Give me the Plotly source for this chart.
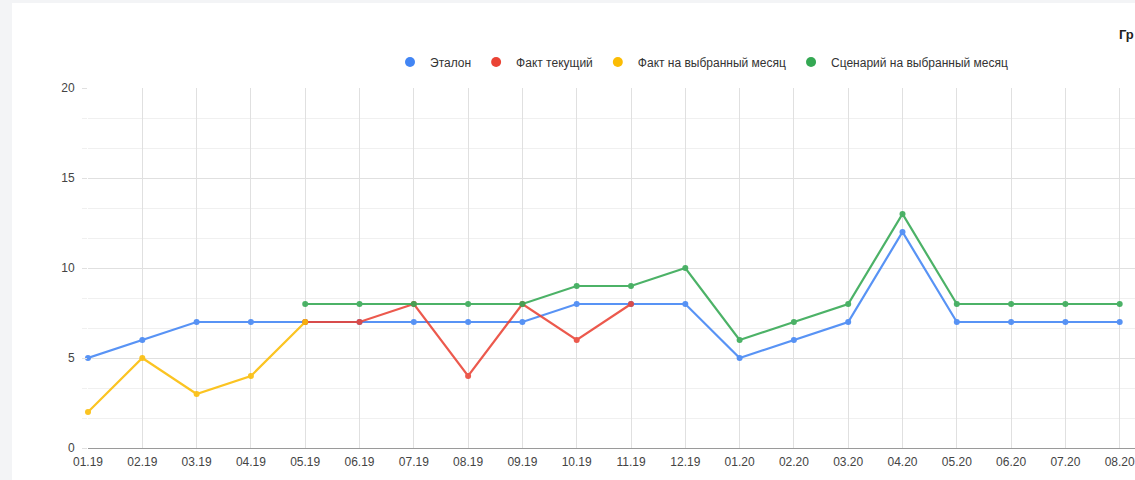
import plotly.graph_objects as go

months = ["01.19", "02.19", "03.19", "04.19", "05.19", "06.19", "07.19", "08.19", "09.19", "10.19",
          "11.19", "12.19", "01.20", "02.20", "03.20", "04.20", "05.20", "06.20", "07.20", "08.20"]

etalon = [5, 6, 7, 7, 7, 7, 7, 7, 7, 8, 8, 8, 5, 6, 7, 12, 7, 7, 7, 7]
fakt_tek = [None, None, None, None, 7, 7, 8, 4, 8, 6, 8, None, None, None, None, None, None, None, None, None]
fakt_vybr = [2, 5, 3, 4, 7, None, None, None, None, None, None, None, None, None, None, None, None, None, None, None]
scenariy = [None, None, None, None, 8, 8, 8, 8, 8, 9, 9, 10, 6, 7, 8, 13, 8, 8, 8, 8]

series_names = ["Эталон", "Факт текущий", "Факт на выбранный месяц", "Сценарий на выбранный месяц"]
series_values = [etalon, fakt_tek, fakt_vybr, scenariy]
colors = ["#4285F4", "#EA4335", "#FBBC04", "#34A853"]

W, H = 1135, 480
ML, MR, MT, MB = 88, 0, 88, 32
PW = W - ML - MR
PH = H - MT - MB
step = 54.3
xmax = PW / step

idx = list(range(len(months)))

fig = go.Figure()
for name, vals, col in zip(series_names, series_values, colors):
    fig.add_trace(go.Scatter(
        x=idx, y=vals, mode="lines+markers", name=name,
        line=dict(color=col, width=2.2), marker=dict(color=col, size=6),
        opacity=0.88, showlegend=False, connectgaps=False, cliponaxis=False,
    ))
for name, col in zip(series_names, colors):
    fig.add_trace(go.Scatter(
        x=[None], y=[None], mode="markers", name=name,
        marker=dict(color=col, size=10), showlegend=True,
    ))

font_family = "Arial, Liberation Sans, sans-serif"

fig.update_layout(
    width=W, height=H,
    margin=dict(l=ML, r=MR, t=MT, b=MB),
    paper_bgcolor="#f3f4f6",
    plot_bgcolor="rgba(0,0,0,0)",
    font=dict(family=font_family, size=12, color="#444"),
    showlegend=True,
    legend=dict(orientation="h", x=(390 - ML) / PW, xanchor="left",
                y=1 + (MT - 62) / PH, yanchor="middle",
                font=dict(size=12, color="#333"), itemwidth=30,
                bgcolor="rgba(0,0,0,0)"),
    xaxis=dict(
        range=[0, xmax], tickmode="array", tickvals=idx, ticktext=months,
        showgrid=True, gridcolor="#e0e0e0", gridwidth=1,
        showline=True, linecolor="#9a9a9a", linewidth=1,
        ticks="", zeroline=False, tickfont=dict(size=12, color="#444"),
        ticklabelstandoff=3, ticklabeloverflow="allow",
    ),
    yaxis=dict(
        range=[0, 20], tickvals=[0, 5, 10, 15, 20],
        showgrid=True, gridcolor="#e0e0e0", gridwidth=1,
        ticks="outside", ticklen=5, tickcolor="#e0e0e0",
        zeroline=False, showline=False, tickfont=dict(size=12, color="#444"),
        ticklabelstandoff=5,
        minor=dict(dtick=5 / 3, tick0=0, showgrid=True, gridcolor="#f0f0f0", gridwidth=1,
                   ticks="outside", ticklen=5, tickcolor="#f0f0f0"),
    ),
    shapes=[dict(type="rect", xref="paper", yref="paper",
                 x0=(12 - ML) / PW, x1=1.0, y0=-MB / PH - 0.01, y1=1 + (MT - 3) / PH,
                 fillcolor="white", line=dict(width=0), layer="below")],
    annotations=[dict(text="<b>Гр</b>", xref="paper", yref="paper",
                      x=(1117 - ML) / PW, y=1 + (MT - 34) / PH, xanchor="left", yanchor="middle",
                      showarrow=False, font=dict(size=13, color="#222"))],
)

fig.write_html("out.html", config={"displayModeBar": False},
               post_script="document.body.style.margin='0';document.body.style.overflow='hidden';")
